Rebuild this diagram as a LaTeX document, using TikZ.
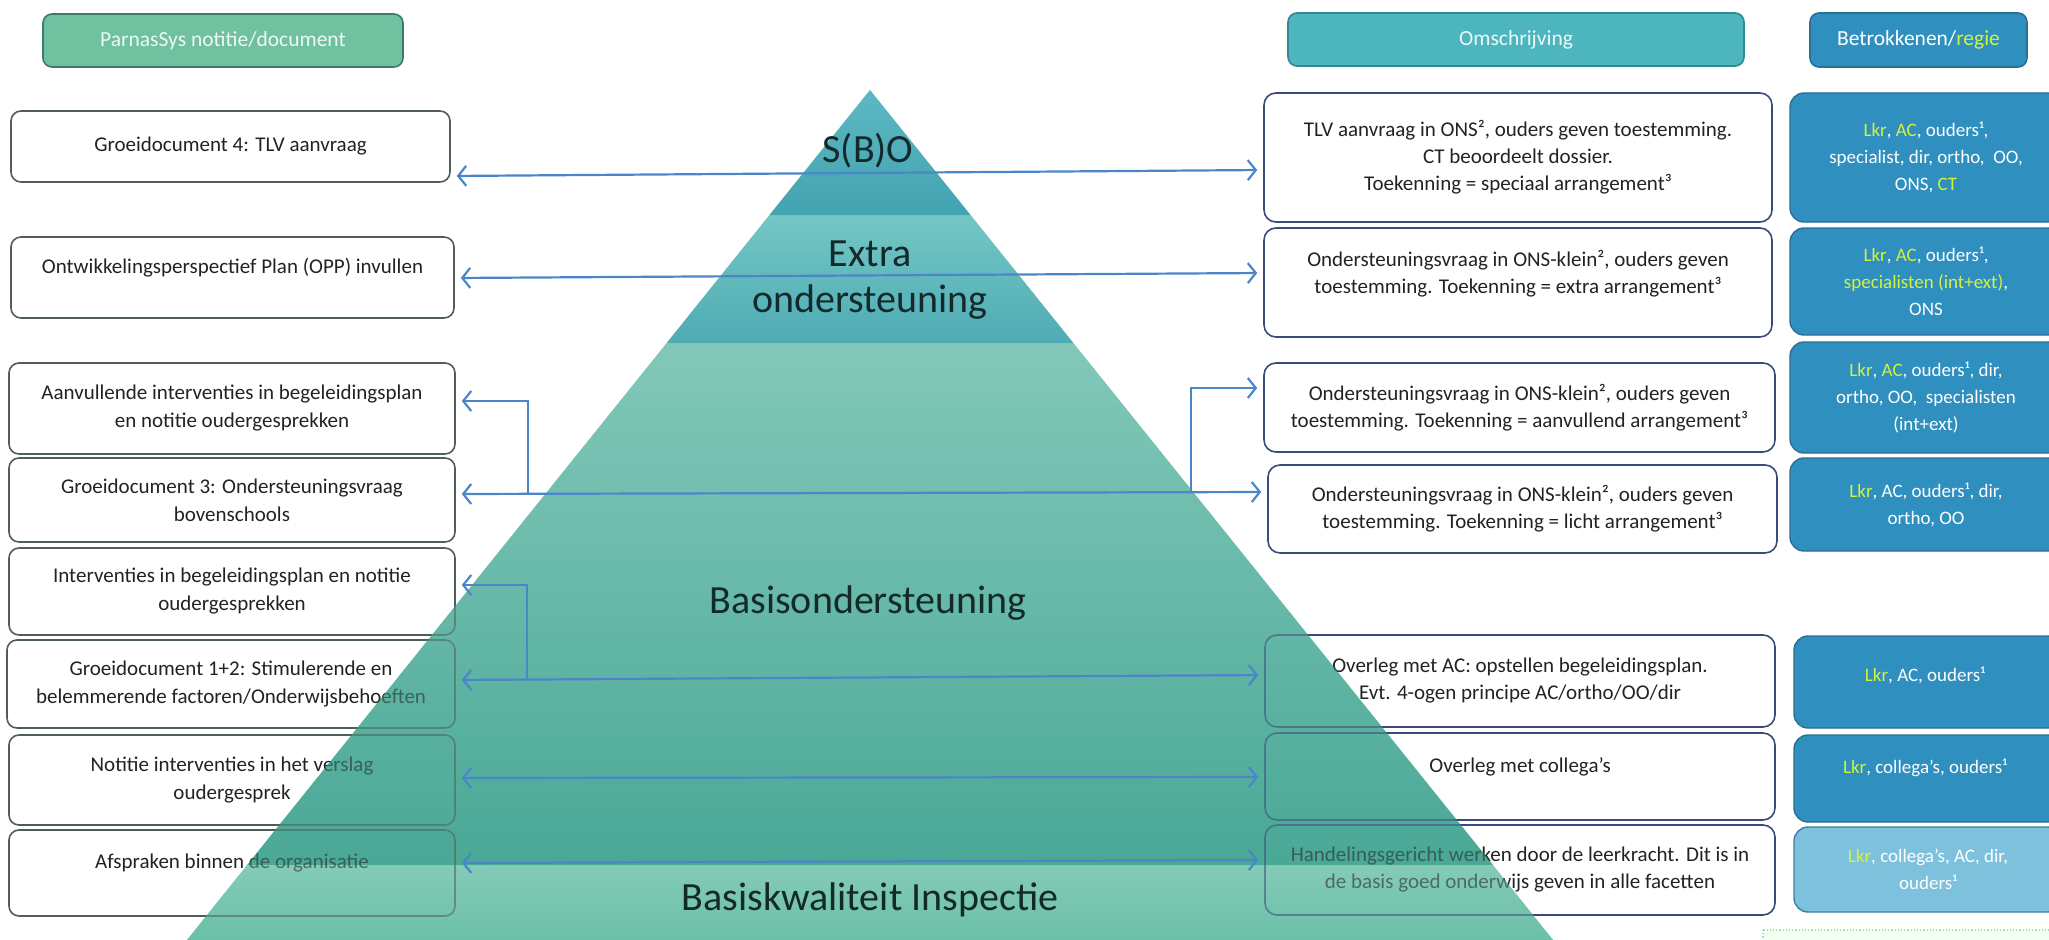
\documentclass[tikz,border=0pt]{standalone}
\usepackage{fontspec}
\setmainfont{Carlito}
\usetikzlibrary{arrows.meta}
\definecolor{textdark}{HTML}{222222}
\definecolor{lboxborder}{HTML}{4F5F57}
\definecolor{rboxborder}{HTML}{3C4A78}
\definecolor{bboxfill}{HTML}{2F8FBF}
\definecolor{bboxborder}{HTML}{2A6F95}
\definecolor{bboxlight}{HTML}{7EC1DC}
\definecolor{lkryellow}{HTML}{D4F23E}
\definecolor{arrowblue}{HTML}{4A86C8}
\definecolor{hlfill}{HTML}{6FC1A0}
\definecolor{hlborder}{HTML}{3D7D68}
\definecolor{hofill}{HTML}{4DB5BE}
\definecolor{hoborder}{HTML}{2F8A93}
\definecolor{sboT}{HTML}{5CB9C3}
\definecolor{sboB}{HTML}{43A3B0}
\definecolor{extT}{HTML}{74C6C4}
\definecolor{extB}{HTML}{4EACB4}
\definecolor{basT}{HTML}{82C8B9}
\definecolor{basB}{HTML}{4AA896}
\definecolor{insT}{HTML}{84CBB8}
\definecolor{insB}{HTML}{6BBFA7}
\definecolor{pyrtext}{HTML}{14292A}
\newcommand\yl[1]{\textcolor{lkryellow}{#1}}
\newcommand\pyrbands[1]{%
  \shade[top color=sboT, bottom color=sboB, opacity=#1] (870,90) -- (970.5,215) -- (769.5,215) -- cycle;
  \shade[top color=extT, bottom color=extB, opacity=#1] (769.5,215) -- (970.5,215) -- (1073.3,343) -- (666.7,343) -- cycle;
  \shade[top color=basT, bottom color=basB, opacity=#1] (666.7,343) -- (1073.3,343) -- (1492.9,865) -- (247.1,865) -- cycle;
  \shade[top color=insT, bottom color=insB, opacity=#1] (247.1,865) -- (1492.9,865) -- (1553,940) -- (187,940) -- cycle;
}
\begin{document}
\begin{tikzpicture}[x=1pt,y=-1pt,
  lbox/.style={draw=lboxborder, line width=1.6pt, rounded corners=10pt, inner sep=0pt, align=center, text=textdark, font=\fontsize{21}{28}\selectfont},
  rbox/.style={draw=rboxborder, line width=1.6pt, rounded corners=12pt, inner sep=0pt, align=center, text=textdark, font=\fontsize{21}{27}\selectfont},
  bbox/.style={draw=bboxborder, line width=1.4pt, rounded corners=14pt, fill=bboxfill, inner sep=0pt, align=center, text=white, font=\fontsize{19}{27}\selectfont},
  hdr/.style={line width=1.6pt, rounded corners=9pt, inner sep=0pt, align=center, font=\fontsize{21.5}{24}\selectfont},
  pyrlabel/.style={inner sep=0pt, align=center, text=pyrtext, font=\fontsize{40}{46}\selectfont},
  boxtext/.style={inner sep=0pt, align=center},
  arr/.style={draw=arrowblue, line width=2.2pt, shorten >=6pt, shorten <=6pt, arrows={Straight Barb[length=8pt,width=20pt]-Straight Barb[length=8pt,width=20pt]}},
  onearr/.style={draw=arrowblue, line width=2.2pt, shorten >=6pt, arrows={-Straight Barb[length=8pt,width=20pt]}}
]
\useasboundingbox (0,0) rectangle (2049,939);

% opaque pyramid underneath
\pyrbands{1}

% headers
\node[hdr, draw=hlborder, fill=hlfill, text=white!88!hlfill, minimum width=360pt, minimum height=53pt] (hl) at (223,40.5) {ParnasSys notitie/document};
\node[hdr, draw=hoborder, fill=hofill, text=white!90!hofill, minimum width=456pt, minimum height=53pt] (ho) at (1516,39.5) {Omschrijving};
\node[hdr, draw=bboxborder, fill=bboxfill, text=white, minimum width=217pt, minimum height=54pt] (hb) at (1918.5,40) {Betrokkenen/\yl{regie}};

% left boxes
\node[lbox, minimum width=439pt, minimum height=71pt] (l1) at (230.5,146.5) {Groeidocument 4: TLV aanvraag};
\node[lbox, minimum width=443pt, minimum height=81pt] (l2) at (232.5,277.5) {};
\node[boxtext, text=textdark, font=\fontsize{21}{28}\selectfont] (l2t) at ([yshift=9.5pt]l2.center) {Ontwikkelingsperspectief Plan (OPP) invullen};
\node[lbox, minimum width=446pt, minimum height=91pt] (l3) at (232,408.5) {Aanvullende interventies in begeleidingsplan\\en notitie oudergesprekken};
\node[lbox, minimum width=446pt, minimum height=84pt] (l4) at (232,500) {Groeidocument 3: Ondersteuningsvraag\\bovenschools};
\node[lbox, minimum width=446pt, minimum height=87pt] (l5) at (232,591.5) {Interventies in begeleidingsplan en notitie\\oudergesprekken};
\node[lbox, minimum width=448pt, minimum height=88pt] (l6) at (231,684) {Groeidocument 1+2: Stimulerende en\\belemmerende factoren/Onderwijsbehoeften};
\node[lbox, minimum width=446pt, minimum height=90pt] (l7) at (232,780) {Notitie interventies in het verslag\\oudergesprek};
\node[lbox, minimum width=446pt, minimum height=86pt] (l8) at (232,873) {};
\node[boxtext, text=textdark, font=\fontsize{21}{28}\selectfont] (l8t) at ([yshift=10pt]l8.center) {Afspraken binnen de organisatie};

% right description boxes
\node[rbox, minimum width=508pt, minimum height=129pt] (r1) at (1518,157.5) {TLV aanvraag in ONS², ouders geven toestemming.\\CT beoordeelt dossier.\\Toekenning = speciaal arrangement³};
\node[rbox, minimum width=508pt, minimum height=109pt] (r2) at (1518,282.5) {};
\node[boxtext, text=textdark, font=\fontsize{21}{27}\selectfont] (r2t) at ([yshift=9pt]r2.center) {Ondersteuningsvraag in ONS-klein², ouders geven\\toestemming. Toekenning = extra arrangement³};
\node[rbox, minimum width=511pt, minimum height=89pt] (r3) at (1519.5,407.5) {Ondersteuningsvraag in ONS-klein², ouders geven\\toestemming. Toekenning = aanvullend arrangement³};
\node[rbox, minimum width=509pt, minimum height=88pt] (r4) at (1522.5,509) {Ondersteuningsvraag in ONS-klein², ouders geven\\toestemming. Toekenning = licht arrangement³};
\node[rbox, minimum width=510pt, minimum height=92pt] (r5) at (1520,681) {Overleg met AC: opstellen begeleidingsplan.\\Evt. 4-ogen principe AC/ortho/OO/dir};
\node[rbox, minimum width=510pt, minimum height=87pt] (r6) at (1520,776.5) {};
\node[boxtext, text=textdark, font=\fontsize{21}{27}\selectfont] (r6t) at ([yshift=9.5pt]r6.center) {Overleg met collega’s};
\node[rbox, minimum width=510pt, minimum height=90pt] (r7) at (1520,870) {Handelingsgericht werken door de leerkracht. Dit is in\\de basis goed onderwijs geven in alle facetten};

% blue boxes
\node[bbox, minimum width=272pt, minimum height=129pt] (b1) at (1926,157.5) {\yl{Lkr}, \yl{AC}, ouders¹,\\specialist, dir, ortho,\ \ OO,\\ONS, \yl{CT}};
\node[bbox, minimum width=272pt, minimum height=107pt] (b2) at (1926,281.5) {\yl{Lkr}, \yl{AC}, ouders¹,\\\yl{specialisten (int+ext)},\\ONS};
\node[bbox, minimum width=272pt, minimum height=111pt] (b3) at (1926,397.5) {\yl{Lkr}, \yl{AC}, ouders¹, dir,\\ortho, OO,\ \ specialisten\\(int+ext)};
\node[bbox, minimum width=272pt, minimum height=93pt] (b4) at (1926,504.5) {\yl{Lkr}, AC, ouders¹, dir,\\ortho, OO};
\node[bbox, minimum width=268pt, minimum height=92pt] (b5) at (1928,682) {};
\node[boxtext, text=white, font=\fontsize{19}{27}\selectfont] (b5t) at ([xshift=-3pt,yshift=7pt]b5.center) {\yl{Lkr}, AC, ouders¹};
\node[bbox, minimum width=268pt, minimum height=87pt] (b6) at (1928,778.5) {};
\node[boxtext, text=white, font=\fontsize{19}{27}\selectfont] (b6t) at ([xshift=-3pt,yshift=10.5pt]b6.center) {\yl{Lkr}, collega's, ouders¹};
\node[bbox, fill=bboxlight, draw=bboxborder!80!bboxlight, minimum width=268pt, minimum height=85pt] (b7) at (1928,869.5) {\yl{Lkr}, collega's, AC, dir,\\ouders¹};

% partial dotted box bottom right
\draw[draw=green!35!teal!40, line width=1.2pt, dotted, fill=green!6] (1763,930) rectangle (2065,960);

% pyramid again, semi-transparent, dimming what lies under it
\pyrbands{0.45}

% pyramid labels
\node[pyrlabel] (sbo) at (868,151) {S(B)O};
\node[pyrlabel] (extra) at (870,280) {Extra\\ondersteuning};
\node[pyrlabel] (basis) at (868,603) {Basisondersteuning};
\node[pyrlabel] (insp) at (870,900) {Basiskwaliteit Inspectie};

% connectors
\draw[arr] ([yshift=-29.5pt]l1.east) -- ([yshift=-12.5pt]r1.west);
\draw[arr] ([yshift=-0.5pt]l2.east) -- ([yshift=9.5pt]r2.west);
\draw[arr] ([yshift=6pt]l4.east) -- ([yshift=17pt]r4.west);
\coordinate (ja) at (528,493.7);
\coordinate (jb) at (1191,492.3);
\draw[onearr] (ja) |- ([yshift=7.5pt]l3.east);
\draw[onearr] (jb) |- ([yshift=19.5pt]r3.west);
\draw[arr] ([yshift=4pt]l6.east) -- ([yshift=6pt]r5.west);
\coordinate (jc) at (527,679.4);
\draw[onearr] (jc) |- ([yshift=6.5pt]l5.east);
\draw[arr] ([yshift=2pt]l7.east) -- ([yshift=-0.5pt]r6.west);
\draw[arr] ([yshift=10pt]l8.east) -- ([yshift=10pt]r7.west);
\end{tikzpicture}
\end{document}
